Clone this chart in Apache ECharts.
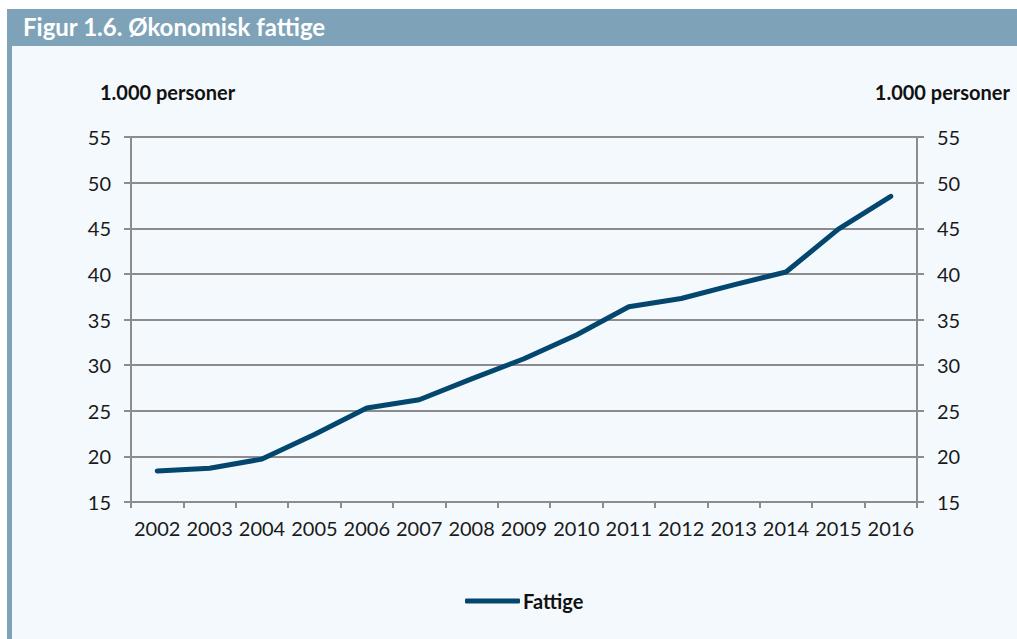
<!DOCTYPE html>
<html>
<head>
<meta charset="utf-8">
<script src="https://cdn.jsdelivr.net/npm/echarts@6/dist/echarts.min.js"></script>
<style>
  html, body { margin: 0; padding: 0; background: #ffffff; }
  #box { width: 1017px; height: 639px; }
</style>
</head>
<body>
<div id="box"></div>
<script>
// årstall på x-aksen
const years = ['2002', '2003', '2004', '2005', '2006', '2007', '2008', '2009',
               '2010', '2011', '2012', '2013', '2014', '2015', '2016'];
// økonomisk fattige, 1.000 personer
const fattige = [18.4, 18.7, 19.7, 22.4, 25.3, 26.2, 28.5, 30.7,
                 33.3, 36.4, 37.3, 38.8, 40.2, 44.9, 48.5];
// akseskala
const yMin = 15;
const yMax = 55;
const yStep = 5;

const font = 'Lato, "Open Sans", sans-serif';
const gray = '#8c8c8c';
const navy = '#03466e';

var myChart = echarts.init(document.getElementById('box'), null, { renderer: 'svg' });

var option = {
    backgroundColor: '#ffffff',
    animation: false,
    textStyle: { fontFamily: font },
    graphic: [
        // panel
        { type: 'rect', silent: true, z: -10, shape: { x: 7, y: 9, width: 1010, height: 630 }, style: { fill: '#f4f9fd' } },
        // tittelstripe
        { type: 'rect', silent: true, z: -9, shape: { x: 7, y: 9, width: 1010, height: 37 }, style: { fill: '#7ea3b9' } },
        // venstre kant
        { type: 'rect', silent: true, z: -9, shape: { x: 7, y: 46, width: 5, height: 593 }, style: { fill: '#7ea3b9' } },
        // aksetitler
        { type: 'text', x: 100, y: 92, style: { text: '1.000 personer', fontFamily: font, fontSize: 20, fontWeight: 'bold', fill: '#111', textVerticalAlign: 'middle' } },
        { type: 'text', x: 1010, y: 92, style: { text: '1.000 personer', fontFamily: font, fontSize: 20, fontWeight: 'bold', fill: '#111', textAlign: 'right', textVerticalAlign: 'middle' } }
    ],
    title: {
        text: 'Figur 1.6. Økonomisk fattige',
        left: 18,
        top: 9,
        textStyle: { color: '#ffffff', fontFamily: font, fontSize: 24, fontWeight: 'bold' }
    },
    legend: {
        data: ['Fattige'],
        icon: 'roundRect',
        left: 460,
        top: 586,
        itemWidth: 55,
        itemHeight: 5,
        itemGap: 4,
        textStyle: { fontFamily: font, fontSize: 20, fontWeight: 'bold', color: '#111', padding: [0, 0, 0, -2] }
    },
    grid: { left: 131, right: 100, top: 137, bottom: 137 },
    xAxis: {
        type: 'category',
        data: years,
        boundaryGap: true,
        axisLine: { show: true, lineStyle: { color: gray, width: 2 } },
        axisTick: { show: true, length: 6, interval: 0, lineStyle: { color: gray, width: 2 } },
        axisLabel: { interval: 0, margin: 16, fontSize: 20, color: '#1a1a1a', fontFamily: font }
    },
    yAxis: [
        {
            type: 'value',
            min: yMin, max: yMax, interval: yStep,
            position: 'left',
            axisLine: { show: true, lineStyle: { color: gray, width: 2 } },
            axisTick: { show: true, length: 7, lineStyle: { color: gray, width: 2 } },
            axisLabel: { margin: 20, fontSize: 20, color: '#1a1a1a', fontFamily: font },
            splitLine: { show: true, lineStyle: { color: gray, width: 2 } }
        },
        {
            type: 'value',
            min: yMin, max: yMax, interval: yStep,
            position: 'right',
            axisLine: { show: true, lineStyle: { color: gray, width: 2 } },
            axisTick: { show: true, length: 7, lineStyle: { color: gray, width: 2 } },
            axisLabel: { margin: 20, fontSize: 20, color: '#1a1a1a', fontFamily: font },
            splitLine: { show: false }
        }
    ],
    series: [
        {
            name: 'Fattige',
            type: 'line',
            data: fattige,
            yAxisIndex: 0,
            symbol: 'none',
            color: navy,
            lineStyle: { color: navy, width: 5, cap: 'round', join: 'round' }
        }
    ]
};

myChart.setOption(option);
</script>
</body>
</html>
